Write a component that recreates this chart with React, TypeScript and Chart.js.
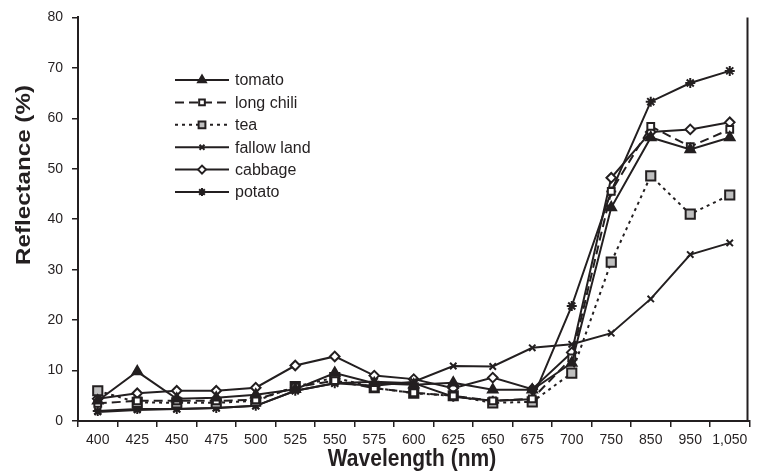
import React, { useEffect, useRef } from 'react';
import { Chart, registerables } from 'chart.js';
import { drawPoint } from 'chart.js/helpers';

Chart.register(...registerables);

const wavelengths = ['400', '425', '450', '475', '500', '525', '550', '575', '600', '625', '650', '675', '700', '750', '850', '950', '1,050'];
const tomato = [4.0, 9.8, 4.4, 4.6, 5.2, 6.3, 9.5, 7.5, 7.2, 7.6, 6.2, 6.2, 11.5, 42.3, 56.2, 53.8, 56.2];
const longChili = [3.5, 4.0, 4.0, 4.0, 4.2, 6.7, 8.0, 6.5, 5.6, 5.0, 4.0, 4.4, 12.5, 45.5, 58.4, 54.4, 57.8];
const tea = [6.0, 3.7, 3.6, 3.6, 4.0, 6.8, 8.6, 6.6, 5.5, 5.0, 3.6, 3.8, 9.5, 31.5, 48.6, 41.0, 44.8];
const fallowLand = [1.8, 2.2, 2.4, 2.6, 3.0, 6.0, 7.5, 7.0, 7.8, 10.9, 10.8, 14.5, 15.2, 17.4, 24.2, 33.0, 35.3];
const cabbage = [4.4, 5.5, 6.0, 6.0, 6.6, 11.0, 12.8, 9.0, 8.3, 6.5, 8.6, 6.3, 13.6, 48.2, 57.3, 57.8, 59.2];
const potato = [2.0, 2.4, 2.4, 2.6, 3.0, 6.0, 7.5, 7.8, 7.5, 4.8, 4.0, 4.3, 22.8, 45.5, 63.3, 67.0, 69.4];

const yMin = 0;
const yMax = 80;
const yStep = 10;

const xTitle = 'Wavelength (nm)';
const yTitle = 'Reflectance (%)';

const INK = '#231f20';
const FONT = "'Liberation Sans', Arial, Helvetica, sans-serif";

export default function App() {
  const ref = useRef<HTMLCanvasElement>(null);

  useEffect(() => {
    document.body.style.margin = '0';
    const series = [
      { label: 'tomato', data: tomato, style: 'triangle', r: 5.5, lr: 4.5, fill: INK, dash: [] as number[] },
      { label: 'long chili', data: longChili, style: 'rect', r: 4.8, lr: 4, fill: '#ffffff', dash: [9, 5] },
      { label: 'tea', data: tea, style: 'rect', r: 6.5, lr: 4.8, fill: '#bfbfbf', dash: [3, 4] },
      { label: 'fallow land', data: fallowLand, style: 'crossRot', r: 4.5, lr: 3.5, fill: INK, dash: [] as number[] },
      { label: 'cabbage', data: cabbage, style: 'rectRot', r: 4.8, lr: 4, fill: '#ffffff', dash: [] as number[] },
      { label: 'potato', data: potato, style: 'star', r: 5, lr: 4, fill: INK, dash: [] as number[] },
    ];

    const excelDecor = {
      id: 'excelDecor',
      afterDraw(chart: any) {
        const ctx = chart.ctx as CanvasRenderingContext2D;
        ctx.save();
        // legend
        series.forEach((s, i) => {
          const y = 80 + i * 22.4;
          ctx.strokeStyle = INK;
          ctx.lineWidth = 2;
          ctx.setLineDash(s.dash);
          ctx.beginPath();
          ctx.moveTo(175, y);
          ctx.lineTo(229, y);
          ctx.stroke();
          ctx.setLineDash([]);
          ctx.fillStyle = s.fill;
          ctx.strokeStyle = INK;
          ctx.lineWidth = 2;
          drawPoint(ctx, { pointStyle: s.style as any, radius: s.lr, rotation: 0, borderWidth: 2 } as any, 202, y);
          ctx.fillStyle = INK;
          ctx.font = `16px ${FONT}`;
          ctx.textAlign = 'left';
          ctx.textBaseline = 'middle';
          ctx.fillText(s.label, 235, y + 1);
        });
        // right frame line
        const { right, top, bottom } = chart.chartArea;
        ctx.strokeStyle = INK;
        ctx.lineWidth = 2;
        ctx.beginPath();
        ctx.moveTo(right - 2, top);
        ctx.lineTo(right - 2, bottom);
        ctx.stroke();
        // axis titles
        ctx.fillStyle = INK;
        ctx.font = `bold 21px ${FONT}`;
        ctx.textAlign = 'center';
        ctx.textBaseline = 'middle';
        ctx.save();
        ctx.translate(412, 459);
        ctx.scale(1, 1.18);
        ctx.fillText(xTitle, 0, 0);
        ctx.restore();
        ctx.save();
        ctx.translate(24, 175);
        ctx.rotate(-Math.PI / 2);
        ctx.scale(1.15, 1);
        ctx.fillText(yTitle, 0, 0);
        ctx.restore();
        ctx.restore();
      },
    };

    const chart = new Chart(ref.current!, {
      type: 'line',
      data: {
        labels: wavelengths,
        datasets: series.map((s) => ({
          label: s.label,
          data: s.data,
          borderColor: INK,
          borderWidth: 2,
          borderDash: s.dash,
          pointStyle: s.style as any,
          pointRadius: s.r,
          pointBorderWidth: 2,
          pointBorderColor: INK,
          pointBackgroundColor: s.fill,
          tension: 0,
          fill: false,
        })),
      },
      options: {
        responsive: false,
        animation: false,
        devicePixelRatio: 1,
        layout: { padding: { top: 15, right: 1, left: 0, bottom: 0 } },
        plugins: { legend: { display: false }, tooltip: { enabled: false } },
        scales: {
          x: {
            type: 'category',
            offset: true,
            grid: { offset: true, drawOnChartArea: false, drawTicks: true, tickLength: 6, color: INK, lineWidth: 1.5 },
            border: { color: INK, width: 2 },
            ticks: { color: INK, font: { family: FONT, size: 14 }, padding: 5, maxRotation: 0, autoSkip: false },
            title: { display: false },
            afterFit: (s: any) => {
              s.height = 53;
            },
          } as any,
          y: {
            min: yMin,
            max: yMax,
            grid: { drawOnChartArea: false, drawTicks: true, tickLength: 6, color: INK, lineWidth: 1.5 },
            border: { color: INK, width: 2 },
            ticks: { stepSize: yStep, color: INK, font: { family: FONT, size: 14 }, padding: 9 },
            title: { display: false },
            afterFit: (s: any) => {
              s.width = 78;
            },
          } as any,
        },
      },
      plugins: [excelDecor],
    });
    return () => chart.destroy();
  }, []);

  return (
    <div style={{ width: 758, height: 474, position: 'relative', background: '#ffffff' }}>
      <canvas ref={ref} width={758} height={474} style={{ display: 'block' }} />
    </div>
  );
}
